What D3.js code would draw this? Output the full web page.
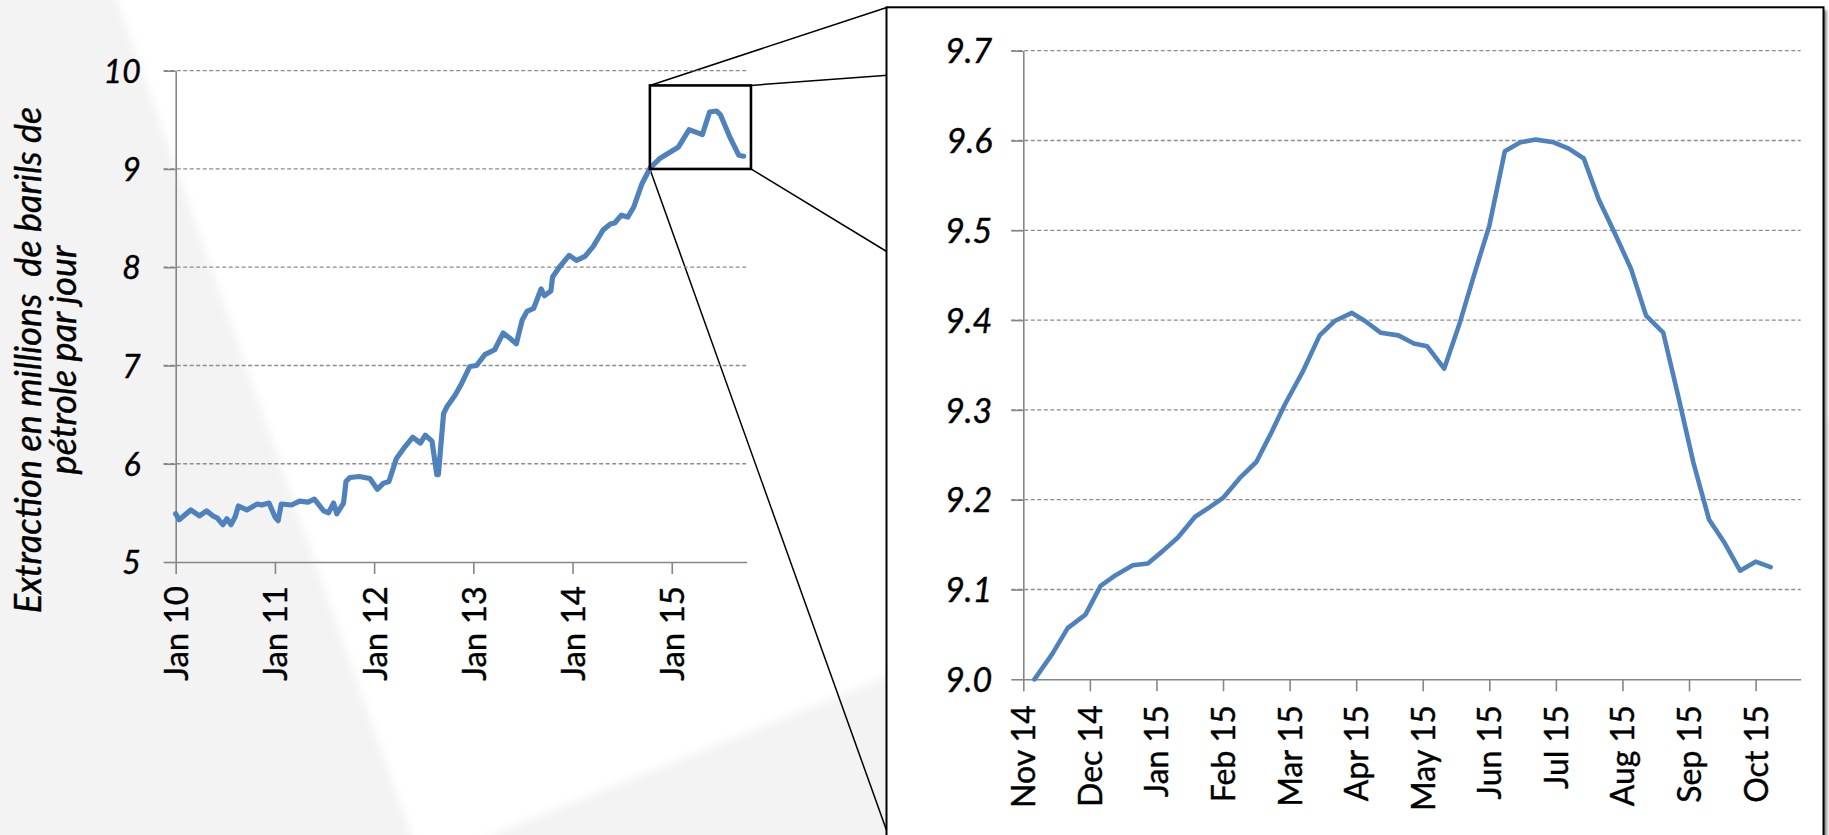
<!DOCTYPE html>
<html>
<head>
<meta charset="utf-8">
<script src="https://cdn.jsdelivr.net/npm/d3@7"></script>
<style>
body{margin:0;background:#fff;overflow:hidden;}
text{font-family:Lato,"Open Sans",sans-serif;fill:#000;stroke:#000;stroke-width:0.4px;}
</style>
</head>
<body>
<script>
// ---- data ----
const leftDates=["2010-01-01","2010-01-14","2010-02-24","2010-03-28","2010-04-23","2010-05-16","2010-06-01","2010-06-22","2010-07-07","2010-07-22",
"2010-08-07","2010-08-19","2010-09-19","2010-10-28","2010-11-13","2010-12-10","2011-01-01","2011-01-13","2011-01-25","2011-03-01",
"2011-04-01","2011-05-01","2011-05-25","2011-06-28","2011-07-16","2011-08-04","2011-08-16","2011-09-10","2011-09-19","2011-10-04",
"2011-11-07","2011-12-16","2012-01-13","2012-02-04","2012-02-24","2012-03-22","2012-04-22","2012-05-22","2012-06-19","2012-07-07",
"2012-08-01","2012-08-19","2012-08-25","2012-09-13","2012-09-25","2012-10-26","2012-11-19","2012-12-19","2013-01-13","2013-02-12",
"2013-03-19","2013-04-19","2013-05-13","2013-06-07","2013-06-28","2013-07-16","2013-08-10","2013-09-07","2013-09-19","2013-10-13",
"2013-10-19","2013-11-13","2013-12-19","2014-01-16","2014-02-15","2014-03-16","2014-04-22","2014-05-19","2014-06-04","2014-06-28",
"2014-07-22","2014-08-13","2014-09-13","2014-10-13","2014-11-19","2014-12-13","2015-01-25","2015-03-04","2015-04-22","2015-05-19",
"2015-06-13","2015-06-28","2015-08-01","2015-09-04","2015-09-22"];
const leftValues=[5.49,5.43,5.53,5.47,5.52,5.47,5.45,5.38,5.44,5.38,
5.46,5.57,5.53,5.59,5.58,5.60,5.46,5.42,5.59,5.58,
5.62,5.61,5.64,5.52,5.50,5.60,5.49,5.60,5.82,5.86,
5.87,5.85,5.74,5.80,5.82,6.05,6.17,6.27,6.21,6.29,
6.23,5.89,5.89,6.51,6.58,6.70,6.82,6.99,7.00,7.11,
7.16,7.33,7.28,7.22,7.46,7.55,7.58,7.78,7.71,7.76,
7.90,8.00,8.12,8.07,8.11,8.21,8.38,8.44,8.45,8.53,
8.51,8.61,8.85,9.01,9.11,9.15,9.22,9.40,9.35,9.58,
9.59,9.55,9.33,9.14,9.13];

const rightDates=["2014-11-06","2014-11-14","2014-11-21","2014-11-29","2014-12-06","2014-12-13","2014-12-21","2014-12-28",
"2015-01-04","2015-01-11","2015-01-19","2015-01-26","2015-02-01","2015-02-08","2015-02-15","2015-02-21","2015-02-27",
"2015-03-07","2015-03-15","2015-03-22","2015-03-30","2015-04-05","2015-04-12","2015-04-20","2015-04-27",
"2015-05-03","2015-05-11","2015-05-18","2015-05-25","2015-06-01","2015-06-08","2015-06-15","2015-06-22","2015-06-30",
"2015-07-07","2015-07-14","2015-07-21","2015-07-28","2015-08-05","2015-08-12","2015-08-20","2015-08-27",
"2015-09-03","2015-09-10","2015-09-17","2015-09-24","2015-10-01","2015-10-08"];
const rightValues=[9.000,9.028,9.057,9.072,9.104,9.116,9.127,9.129,
9.143,9.158,9.181,9.192,9.202,9.224,9.242,9.273,9.306,
9.342,9.383,9.399,9.408,9.399,9.386,9.383,9.374,
9.371,9.346,9.395,9.451,9.505,9.588,9.598,9.601,9.598,
9.591,9.580,9.534,9.499,9.457,9.405,9.386,9.315,
9.241,9.178,9.152,9.121,9.131,9.125];

const leftTickDates=["2010-01-01","2011-01-01","2012-01-01","2013-01-01","2014-01-01","2015-01-01"];
const leftTickLabels=["Jan 10","Jan 11","Jan 12","Jan 13","Jan 14","Jan 15"];
const leftYTicks=[5,6,7,8,9,10];
const leftDomain=["2010-01-01","2015-10-03"];

const rightTickDates=["2014-11-01","2014-12-01","2015-01-01","2015-02-01","2015-03-01","2015-04-01",
"2015-05-01","2015-06-01","2015-07-01","2015-08-01","2015-09-01","2015-10-01"];
const rightTickLabels=["Nov 14","Dec 14","Jan 15","Feb 15","Mar 15","Apr 15","May 15","Jun 15","Jul 15","Aug 15","Sep 15","Oct 15"];
const rightYTicks=[9.0,9.1,9.2,9.3,9.4,9.5,9.6,9.7];
const rightDomain=["2014-11-01","2015-10-22"];

const zoomBoxDates=["2014-10-12","2015-10-19"];
const zoomBoxValues=[9.0,9.85];

const yTitle=["Extraction en millions  de barils de","pétrole par jour"];

// ---- helpers ----
// Excel spaces months evenly, so position = months since base + fraction of month
function monthPos(s,base){
  const p=s.split("-").map(Number), b=base.split("-").map(Number);
  const dim=new Date(p[0],p[1],0).getDate();
  return (p[0]-b[0])*12+(p[1]-b[1])+(p[2]-1)/dim;
}

const W=1829,H=835;
const blue="#4f81bd", axisCol="#868686", gridCol="#8c8c8c";

const svg=d3.select("body").append("svg").attr("width",W).attr("height",H);
const defs=svg.append("defs");
defs.append("filter").attr("id","soft").append("feGaussianBlur").attr("stdDeviation",4);
defs.append("filter").attr("id","shadow").attr("x","-5%").attr("y","-5%").attr("width","110%").attr("height","110%")
  .append("feGaussianBlur").attr("stdDeviation",1.5);

// slide background
const bg=svg.append("g").attr("filter","url(#soft)");
bg.append("polygon").attr("points","-20,-20 110,-20 420,860 -20,860").attr("fill","#f3f3f3");
bg.append("polygon").attr("points","455,850 886,677 1900,400 1900,860").attr("fill","#f3f3f3");

// ---- left chart ----
const L={x0:175.7,x1:746.7,top:70.7,bot:562};
const xL=d3.scaleLinear().domain(leftDomain.map(d=>monthPos(d,leftDomain[0]))).range([L.x0,L.x1]);
const yL=d3.scaleLinear().domain([5,10]).range([L.bot,L.top]);

// ---- right chart ----
const R={x0:1023.3,x1:1800.7,top:50.7,bot:679.3};
const xR=d3.scaleLinear().domain(rightDomain.map(d=>monthPos(d,rightDomain[0]))).range([R.x0,R.x1]);
const yR=d3.scaleLinear().domain([9.0,9.7]).range([R.bot,R.top]);

// zoom connectors (drawn first, panel covers their ends)
const bx0=xL(monthPos(zoomBoxDates[0],leftDomain[0])), bx1=xL(monthPos(zoomBoxDates[1],leftDomain[0]));
const by0=yL(zoomBoxValues[0]), by1=yL(zoomBoxValues[1]);
const panel={x:886.5,y:7.3,w:937,h:900};
const conn=[[bx0,by1,panel.y],[bx1,by1,75.3],[bx1,by0,252],[bx0,by0,833]];
svg.append("g").selectAll("line").data(conn).join("line")
  .attr("x1",d=>d[0]).attr("y1",d=>d[1]).attr("x2",panel.x+1).attr("y2",d=>d[2])
  .attr("stroke","#000").attr("stroke-width",1.5);

// panel
svg.append("rect").attr("x",panel.x+3).attr("y",panel.y+3).attr("width",panel.w).attr("height",panel.h)
  .attr("fill","#777").attr("filter","url(#shadow)");
svg.append("rect").attr("x",panel.x).attr("y",panel.y).attr("width",panel.w).attr("height",panel.h)
  .attr("fill","#fff").attr("stroke","#000").attr("stroke-width",2);

function drawChart(g,x,y,box,yTicks,yFmt,tickDates,tickLabels,base,dates,values,opt){
  // gridlines
  g.append("g").selectAll("line").data(yTicks.filter(v=>v!==yTicks[0])).join("line")
    .attr("x1",box.x0-12).attr("x2",box.x1).attr("y1",d=>y(d)).attr("y2",d=>y(d))
    .attr("stroke",gridCol).attr("stroke-width",1.3).attr("stroke-dasharray","4,2.5");
  // y axis
  const ya=g.append("g").attr("transform",`translate(${box.x0},0)`)
    .call(d3.axisLeft(y).tickValues(yTicks).tickSize(12).tickSizeOuter(0).tickPadding(opt.yPad).tickFormat(yFmt));
  ya.selectAll("text").style("font-size",opt.yFont+"px").style("font-style","italic").attr("dy","0.36em");
  // x axis
  const xa=g.append("g").attr("transform",`translate(0,${box.bot})`)
    .call(d3.axisBottom(x).tickValues(tickDates.map(d=>monthPos(d,base))).tickSize(12).tickSizeOuter(0)
      .tickFormat((d,i)=>tickLabels[i]));
  xa.selectAll("text").attr("y",0).attr("x",-opt.xPad).attr("dy","0.36em")
    .attr("transform","rotate(-90)").style("text-anchor","end").style("font-size",opt.xFont+"px");
  g.selectAll(".domain, .tick line").attr("stroke",axisCol).attr("stroke-width",1.6);
  g.selectAll(".tick text").attr("fill","#000").attr("stroke","#000");
  // series
  const pts=dates.map((d,i)=>({m:monthPos(d,base),v:values[i]}));
  g.append("path").datum(pts)
    .attr("d",d3.line().x(d=>x(d.m)).y(d=>y(d.v)))
    .attr("fill","none").attr("stroke",blue).attr("stroke-width",opt.lw)
    .attr("stroke-linejoin","round").attr("stroke-linecap","round");
}

drawChart(svg.append("g"),xR,yR,R,rightYTicks,d3.format(".1f"),rightTickDates,rightTickLabels,rightDomain[0],
  rightDates,rightValues,{yPad:19,yFont:34,xPad:26,xFont:32,lw:4.6});
drawChart(svg.append("g"),xL,yL,L,leftYTicks,d3.format("d"),leftTickDates,leftTickLabels,leftDomain[0],
  leftDates,leftValues,{yPad:23,yFont:32,xPad:24,xFont:33,lw:5.2});

// zoom box
svg.append("rect").attr("x",bx0).attr("y",by1).attr("width",bx1-bx0).attr("height",by0-by1)
  .attr("fill","none").attr("stroke","#000").attr("stroke-width",2.6);

// y title
const t=svg.append("g").attr("transform","translate(0,360) rotate(-90)");
t.selectAll("text").data(yTitle).join("text")
  .attr("x",0).attr("y",(d,i)=>[40.5,76][i])
  .attr("text-anchor","middle").style("font-size","36px").style("font-style","italic")
  .style("white-space","pre").text(d=>d);
</script>
</body>
</html>
